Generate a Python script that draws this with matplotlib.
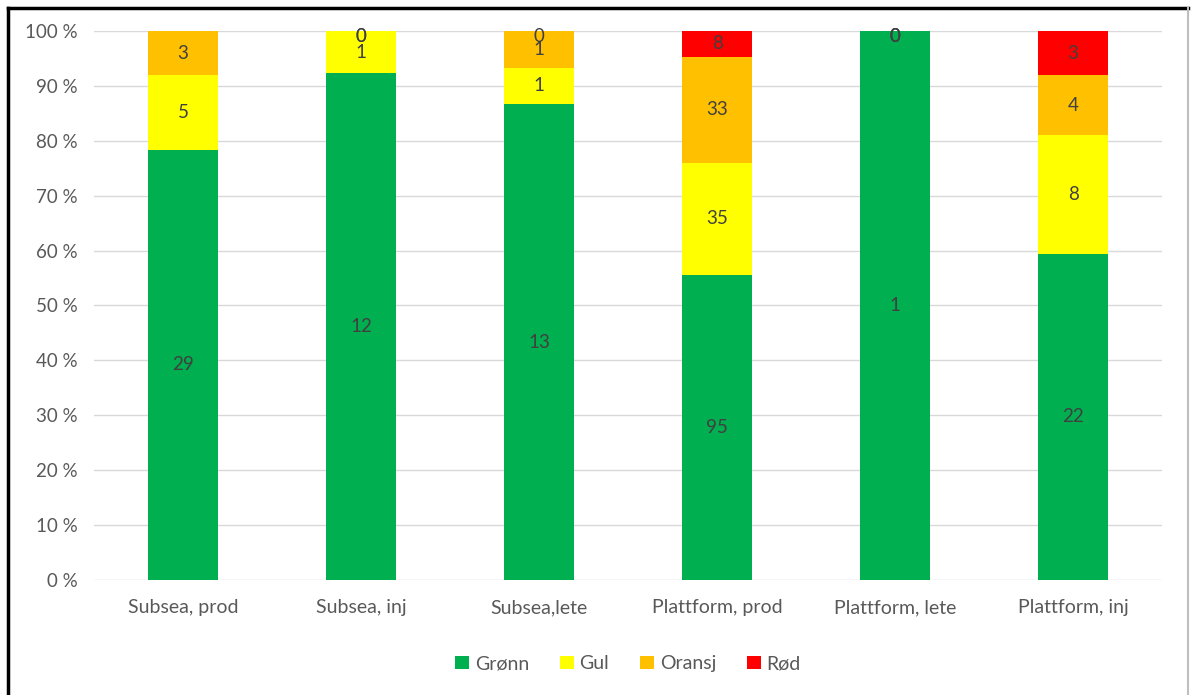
import matplotlib.pyplot as plt
import numpy as np
from matplotlib.lines import Line2D

plt.rcParams['font.family'] = ['Lato', 'DejaVu Sans']

categories = ['Subsea, prod', 'Subsea, inj', 'Subsea,lete', 'Plattform, prod', 'Plattform, lete', 'Plattform, inj']
series_names = ['Grønn', 'Gul', 'Oransj', 'Rød']
gronn = [29, 12, 13, 95, 1, 22]
gul = [5, 1, 1, 35, 0, 8]
oransj = [3, 0, 1, 33, 0, 4]
rod = [np.nan, 0, 0, 8, 0, 3]
colors = ['#00B050', '#FFFF00', '#FFC000', '#FF0000']

counts = np.array([gronn, gul, oransj, rod], dtype=float)
totals = np.nansum(counts, axis=0)
pct = np.nan_to_num(counts) / totals * 100

fig = plt.figure(figsize=(11.92, 6.95), dpi=100)
ax = fig.add_axes([0.0789, 0.1655, 0.896, 0.790])

x = np.arange(len(categories))
bottom = np.zeros(len(categories))
for i, name in enumerate(series_names):
    ax.bar(x, pct[i], 0.39, bottom=bottom, color=colors[i], label=name, zorder=2)
    for j in range(len(categories)):
        if np.isnan(counts[i, j]):
            continue
        yc = bottom[j] + pct[i][j] / 2
        if counts[i, j] == 0:
            yc = 99.0
        ax.text(x[j], yc, '%d' % counts[i, j], ha='center', va='center',
                fontsize=13.5, color='#404040', zorder=3)
    bottom += pct[i]

ax.set_xlim(-0.5, len(categories) - 0.5)
ax.set_ylim(0, 100)
ax.set_yticks(np.arange(0, 101, 10))
ax.set_yticklabels(['%d %%' % v for v in range(0, 101, 10)])
ax.set_xticks(x)
ax.set_xticklabels(categories)
ax.tick_params(length=0, colors='#595959')
ax.tick_params(axis='x', pad=14, labelsize=14)
ax.tick_params(axis='y', pad=12, labelsize=13.5)
ax.grid(axis='y', color='#d9d9d9', linewidth=1, zorder=0)
for s in ax.spines.values():
    s.set_visible(False)

ax.legend(loc='upper center', bbox_to_anchor=(0.5, -0.105), ncol=4, frameon=False,
          fontsize=14, handlelength=0.7, handleheight=0.7, handletextpad=0.3,
          columnspacing=1.6, labelcolor='#595959')

# frame around the picture
fig.add_artist(Line2D([8 / 1192, 8 / 1192], [0, 1 - 8 / 695], color='black', linewidth=2.5,
                      transform=fig.transFigure))
fig.add_artist(Line2D([8 / 1192, 1188 / 1192], [1 - 8 / 695, 1 - 8 / 695], color='black',
                      linewidth=2.5, transform=fig.transFigure))
fig.add_artist(Line2D([1188 / 1192, 1188 / 1192], [0, 1 - 8 / 695], color='#bfbfbf',
                      linewidth=1.5, transform=fig.transFigure))

fig.savefig('out.png', dpi=100)
